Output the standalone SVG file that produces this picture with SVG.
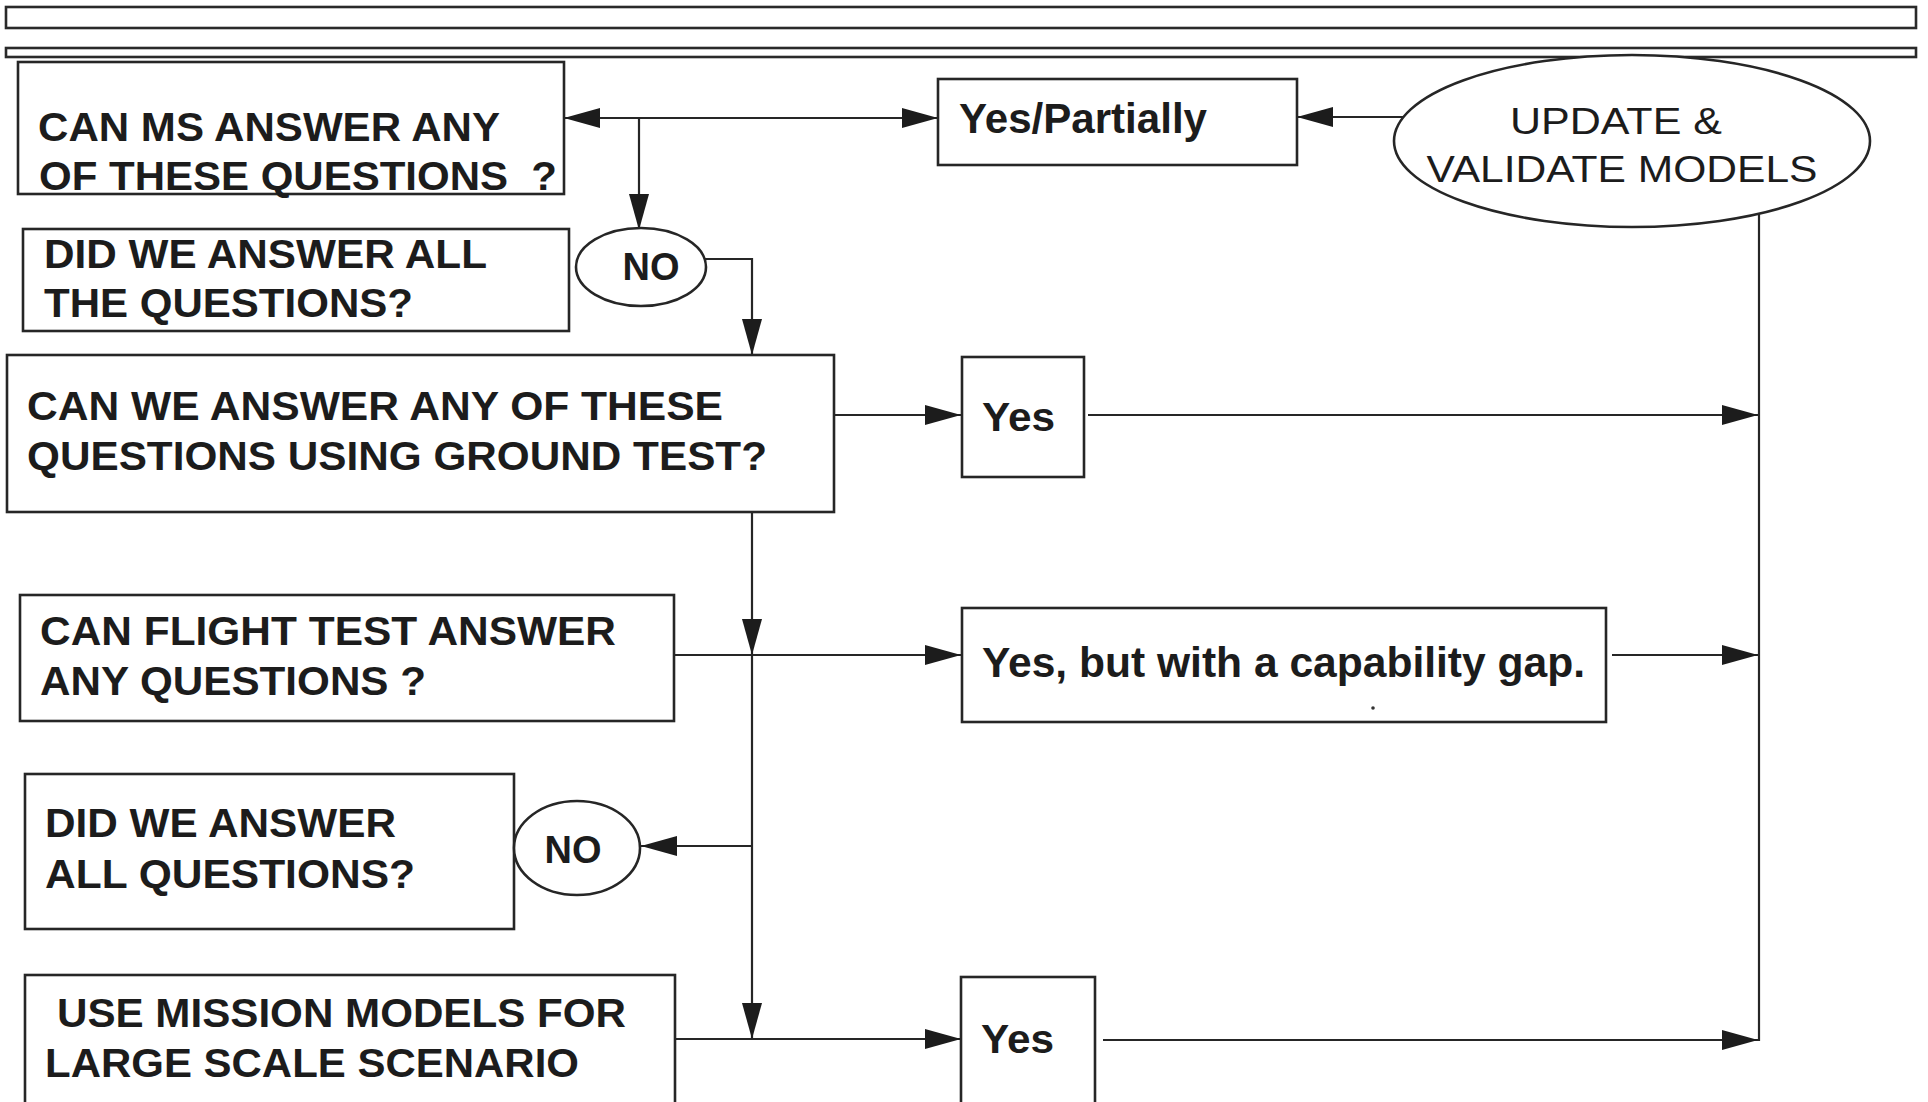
<svg xmlns="http://www.w3.org/2000/svg" width="1928" height="1102" viewBox="0 0 1928 1102">
<style>
.box{fill:#fff;stroke:#262626;stroke-width:2.6}
.bar{fill:#fff;stroke:#2a2a2a;stroke-width:2.6}
.q{font-family:"Liberation Sans",Arial,sans-serif;font-weight:bold;font-size:40px;fill:#1c1c1c}
.a{font-family:"Liberation Sans",Arial,sans-serif;font-weight:bold;fill:#1c1c1c}
.r{font-family:"Liberation Sans",Arial,sans-serif;font-size:37px;fill:#1c1c1c}
.c{fill:none;stroke:#262626;stroke-width:2.2}
</style>
<defs>
<marker id="ah" markerUnits="userSpaceOnUse" markerWidth="38" markerHeight="22" refX="36" refY="10" orient="auto">
<path d="M0,0 L36,10 L0,20 z" fill="#1c1c1c"/>
</marker>
</defs>
<rect width="1928" height="1102" fill="#fff"/>
<g id="header">
<rect class="bar" x="6" y="7" width="1910" height="21"/>
<rect class="bar" x="6" y="48" width="1910" height="9"/>
</g>
<g id="connectors">
<path class="c" d="M639 118 L564 118" marker-end="url(#ah)"/>
<path class="c" d="M639 118 L938 118" marker-end="url(#ah)"/>
<path class="c" d="M639 118 L639 230" marker-end="url(#ah)"/>
<path class="c" d="M1403 117 L1297 117" marker-end="url(#ah)"/>
<path class="c" d="M705 259 L752 259 L752 355" marker-end="url(#ah)"/>
<path class="c" d="M834 415 L961 415" marker-end="url(#ah)"/>
<path class="c" d="M1088 415 L1758 415" marker-end="url(#ah)"/>
<path class="c" d="M752 512 L752 655" marker-end="url(#ah)"/>
<path class="c" d="M752 655 L752 1039" marker-end="url(#ah)"/>
<path class="c" d="M674 655 L961 655" marker-end="url(#ah)"/>
<path class="c" d="M1612 655 L1758 655" marker-end="url(#ah)"/>
<path class="c" d="M752 846 L641 846" marker-end="url(#ah)"/>
<path class="c" d="M674 1039 L961 1039" marker-end="url(#ah)"/>
<path class="c" d="M1103 1040 L1758 1040" marker-end="url(#ah)"/>
<path class="c" d="M1759 214 L1759 1041"/>
</g>
<g id="ms">
<rect class="box" x="18" y="62" width="546" height="132"/>
<text class="q" x="38" y="141" textLength="462" lengthAdjust="spacingAndGlyphs">CAN MS ANSWER ANY</text>
<text class="q" x="39" y="190" textLength="518" lengthAdjust="spacingAndGlyphs" style="white-space:pre">OF THESE QUESTIONS  ?</text>
</g>
<g id="yespartially">
<rect class="box" x="938" y="79" width="359" height="86"/>
<text class="a" x="959" y="133" font-size="42" textLength="248" lengthAdjust="spacingAndGlyphs">Yes/Partially</text>
</g>
<g id="update">
<ellipse class="box" cx="1632" cy="141" rx="238" ry="86"/>
<text class="r" x="1616" y="134" text-anchor="middle" textLength="212" lengthAdjust="spacingAndGlyphs">UPDATE &amp;</text>
<text class="r" x="1622" y="182" text-anchor="middle" textLength="391" lengthAdjust="spacingAndGlyphs">VALIDATE MODELS</text>
</g>
<g id="didall1">
<rect class="box" x="23" y="229" width="546" height="102"/>
<text class="q" x="44" y="268" textLength="443" lengthAdjust="spacingAndGlyphs">DID WE ANSWER ALL</text>
<text class="q" x="44" y="317" textLength="369" lengthAdjust="spacingAndGlyphs">THE QUESTIONS?</text>
</g>
<g id="no1">
<ellipse class="box" cx="641" cy="267" rx="65" ry="39"/>
<text class="a" x="651" y="280" font-size="38" text-anchor="middle">NO</text>
</g>
<g id="ground">
<rect class="box" x="7" y="355" width="827" height="157"/>
<text class="q" x="27" y="420" textLength="696" lengthAdjust="spacingAndGlyphs">CAN WE ANSWER ANY OF THESE</text>
<text class="q" x="27" y="470" textLength="740" lengthAdjust="spacingAndGlyphs">QUESTIONS USING GROUND TEST?</text>
</g>
<g id="yes1">
<rect class="box" x="962" y="357" width="122" height="120"/>
<text class="a" x="982" y="431" font-size="40" textLength="73" lengthAdjust="spacingAndGlyphs">Yes</text>
</g>
<g id="flight">
<rect class="box" x="20" y="595" width="654" height="126"/>
<text class="q" x="40" y="645" textLength="576" lengthAdjust="spacingAndGlyphs">CAN FLIGHT TEST ANSWER</text>
<text class="q" x="40" y="695" textLength="386" lengthAdjust="spacingAndGlyphs">ANY QUESTIONS ?</text>
</g>
<g id="gap">
<rect class="box" x="962" y="608" width="644" height="114"/>
<text class="a" x="982" y="677" font-size="42" textLength="603" lengthAdjust="spacingAndGlyphs">Yes, but with a capability gap.</text>
<circle cx="1373" cy="708" r="1.8" fill="#333"/>
</g>
<g id="didall2">
<rect class="box" x="25" y="774" width="489" height="155"/>
<text class="q" x="45" y="837" textLength="351" lengthAdjust="spacingAndGlyphs">DID WE ANSWER</text>
<text class="q" x="45" y="888" textLength="370" lengthAdjust="spacingAndGlyphs">ALL QUESTIONS?</text>
</g>
<g id="no2">
<ellipse class="box" cx="577" cy="848" rx="63" ry="47"/>
<text class="a" x="573" y="863" font-size="38" text-anchor="middle">NO</text>
</g>
<g id="mission">
<rect class="box" x="25" y="975" width="650" height="140"/>
<text class="q" x="57" y="1027" textLength="569" lengthAdjust="spacingAndGlyphs">USE MISSION MODELS FOR</text>
<text class="q" x="45" y="1077" textLength="534" lengthAdjust="spacingAndGlyphs">LARGE SCALE SCENARIO</text>
</g>
<g id="yes3">
<rect class="box" x="961" y="977" width="134" height="140"/>
<text class="a" x="981" y="1053" font-size="41" textLength="73" lengthAdjust="spacingAndGlyphs">Yes</text>
</g>
</svg>
